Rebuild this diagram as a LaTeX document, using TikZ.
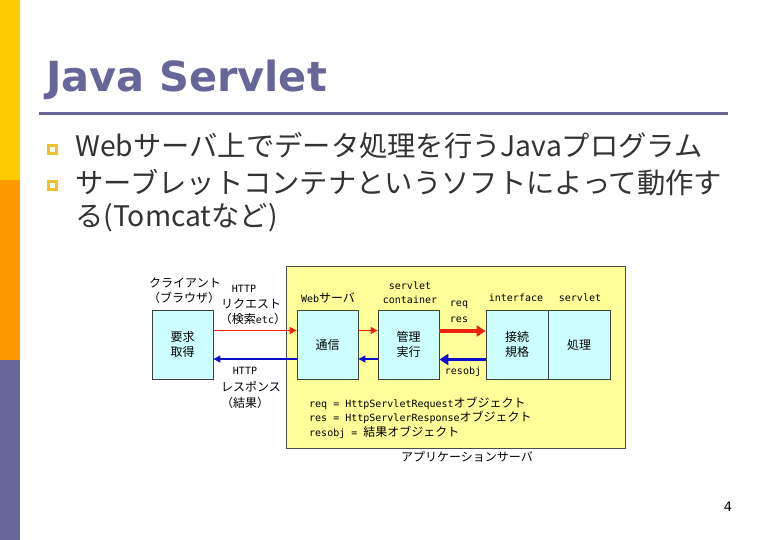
\documentclass[tikz,border=0pt]{standalone}
\usepackage{fontspec}
\setmainfont{DejaVu Sans}
\newfontfamily\jpfont{Noto Sans CJK JP}
\newfontfamily\monofont{DejaVu Sans Mono}
\newcommand{\mn}[1]{{\monofont\fontsize{10}{13}\selectfont #1}}
\usetikzlibrary{arrows.meta,positioning}
\definecolor{slidepurple}{HTML}{666699}
\definecolor{slideyellow}{HTML}{FFCC00}
\definecolor{slideorange}{HTML}{FF9900}
\definecolor{bulletgold}{HTML}{EEC22A}
\definecolor{appyellow}{HTML}{FFFF99}
\definecolor{boxcyan}{HTML}{CCFFFF}
\definecolor{reqred}{HTML}{EE2211}
\definecolor{resblue}{HTML}{1010CC}
\tikzset{
  procbox/.style={draw=black!75,fill=boxcyan,line width=0.8pt,minimum width=61pt,minimum height=69pt,inner sep=0pt,font=\jpfont\fontsize{12}{15}\selectfont,align=center},
  lbl/.style={font=\jpfont\fontsize{12}{13}\selectfont,inner sep=0pt,align=center},
  bul/.style={draw=bulletgold,line width=3pt,minimum size=8pt,inner sep=0pt},
  btext/.style={anchor=west,inner sep=0pt,font=\jpfont\fontsize{28.3}{32}\selectfont,text=black!80},
  thinreq/.style={-{Triangle[length=7pt,width=7pt]},draw=reqred,line width=1.2pt},
  thinres/.style={-{Triangle[length=7pt,width=7pt]},draw=resblue,line width=1.2pt},
  fatreq/.style={-{Triangle[length=9pt,width=11pt]},draw=reqred,line width=3.5pt},
  fatres/.style={-{Triangle[length=9pt,width=11pt]},draw=resblue,line width=3.5pt}
}
\begin{document}
\begin{tikzpicture}[x=1pt,y=-1pt]
  \useasboundingbox (0,0) rectangle (780,540);
  % side bar
  \fill[slideyellow] (0,0) rectangle (20,180);
  \fill[slideorange] (0,180) rectangle (20,360);
  \fill[slidepurple] (0,360) rectangle (20,540);
  % title
  \node[anchor=base west,inner sep=0pt,text=slidepurple,font=\bfseries\fontsize{41.5}{46}\selectfont] (title) at (46,92) {Java Servlet};
  \draw[slidepurple,line width=3pt] (39,114) -- (728,114);
  % bullets
  \node[bul] (b1) at (52.5,149.5) {};
  \node[btext] (t1) at (75,146) {Webサーバ上でデータ処理を行うJavaプログラム};
  \node[bul] (b2) at (52.5,185.5) {};
  \node[btext] (t2) at (75,183) {サーブレットコンテナというソフトによって動作す};
  \node[btext] (t3) at (75,218) {る(Tomcatなど)};

  % application server
  \node[draw=black!70,fill=appyellow,line width=0.8pt,minimum width=339pt,minimum height=182pt,inner sep=0pt] (app) at (455.5,357) {};
  \node[procbox] (client) at (182.5,344.5) {要求\\取得};
  \node[procbox] (comm) at (327.5,344.5) {通信};
  \node[procbox] (mgr) at (408.5,344.5) {管理\\実行};
  \node[procbox,minimum width=62pt] (iface) at (517,344.5) {接続\\規格};
  \node[procbox,minimum width=62pt] (proc) at (579,344.5) {処理};

  % labels
  \node[lbl] (cl1) at (185,283) {クライアント};
  \node[lbl] (cl2) at (184,298) {（ブラウザ）};
  \node[lbl] (rq1) at (244,289) {\mn{HTTP}};
  \node[lbl] (rq2) at (251,304) {リクエスト};
  \node[lbl] (rq3) at (253,319) {（検索\mn{etc}）};
  \node[lbl] (rs1) at (245,371) {\mn{HTTP}};
  \node[lbl] (rs2) at (251,387) {レスポンス};
  \node[lbl] (rs3) at (245,403) {（結果）};
  \node[lbl] (web) at (328,298) {\mn{Web}サーバ};
  \node[lbl] (sc1) at (410,286) {\mn{servlet}};
  \node[lbl] (sc2) at (410,300) {\mn{container}};
  \node[lbl] (req) at (459,305) {\mn{req}};
  \node[lbl] (res) at (459,320) {\mn{res}};
  \node[lbl] (robj) at (463,372) {\mn{resobj}};
  \node[lbl] (ifl) at (516,298) {\mn{interface}};
  \node[lbl] (svl) at (580,298) {\mn{servlet}};
  \node[lbl,anchor=west,align=left] (d1) at (309,403) {\mn{req = HttpServletRequest}オブジェクト};
  \node[lbl,anchor=west,align=left] (d2) at (309,417) {\mn{res = HttpServlerResponse}オブジェクト};
  \node[lbl,anchor=west,align=left] (d3) at (309,432) {\mn{resobj = }結果オブジェクト};
  \node[lbl] (apl) at (467,457) {アプリケーションサーバ};

  % arrows
  \draw[thinreq] ([yshift=14pt]client.east) -- ([yshift=14pt]comm.west);
  \draw[thinres] ([yshift=-14.5pt]comm.west) -- ([yshift=-14.5pt]client.east);
  \draw[thinreq] ([yshift=14pt]comm.east) -- ([yshift=14pt]mgr.west);
  \draw[thinres] ([yshift=-14.5pt]mgr.west) -- ([yshift=-14.5pt]comm.east);
  \draw[fatreq] ([yshift=13.5pt]mgr.east) -- ([yshift=13.5pt]iface.west);
  \draw[fatres] ([yshift=-15pt]iface.west) -- ([yshift=-15pt]mgr.east);

  % page number
  \node[inner sep=0pt,font=\fontsize{13}{15}\selectfont] (pg) at (728,507) {4};
\end{tikzpicture}
\end{document}
